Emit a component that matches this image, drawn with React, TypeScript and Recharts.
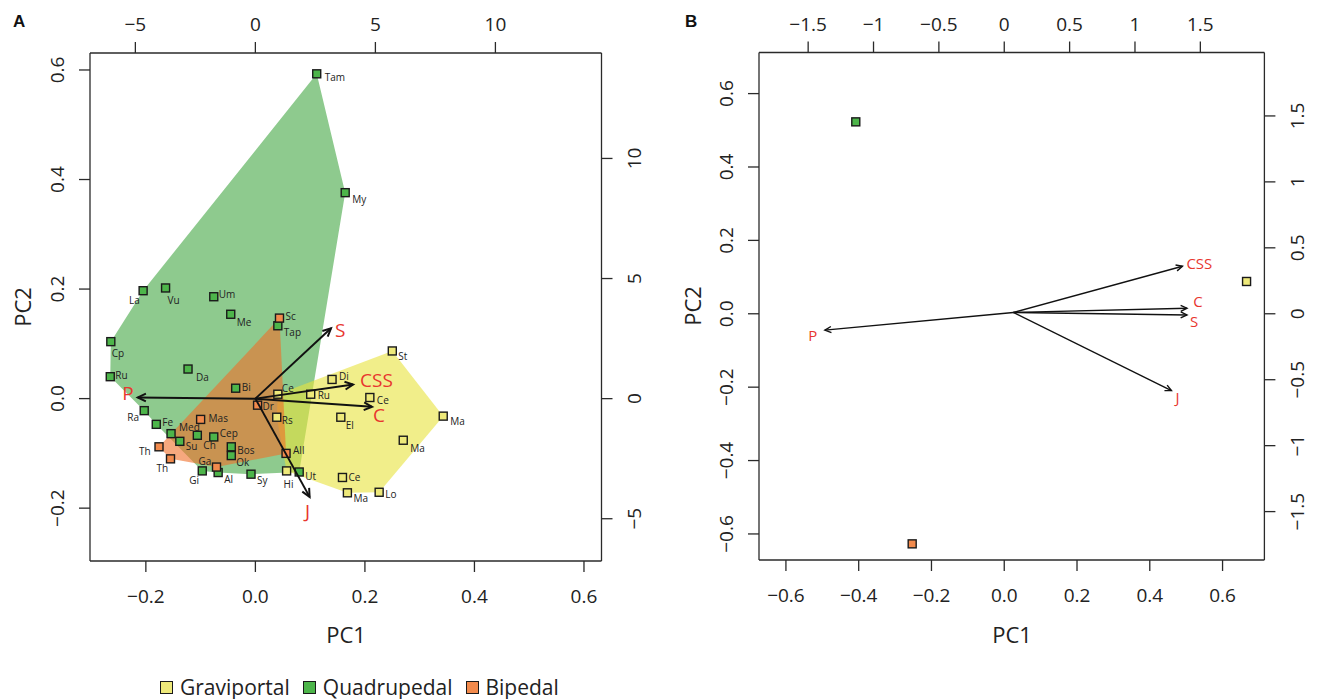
import { ScatterChart, Scatter, XAxis, YAxis } from 'recharts'

const FONT = '"Open Sans", "Noto Sans", sans-serif'
const INK = '#222'
const RED = '#e8362f'

// ---- panel A: PCA scores (PC1, PC2) ----
const GRAVI_NAMES = ['Ce', 'Ru', 'Di', 'Rs', 'El', 'Hi', 'Ce', 'Ma', 'Lo', 'St', 'Ce', 'Ma', 'Ma']
const GRAVI_PC1 = [0.041, 0.101, 0.14, 0.039, 0.156, 0.057, 0.159, 0.168, 0.226, 0.25, 0.209, 0.343, 0.27]
const GRAVI_PC2 = [0.008, 0.008, 0.035, -0.034, -0.034, -0.132, -0.144, -0.172, -0.171, 0.087, 0.002, -0.032, -0.076]

const QUAD_NAMES = ['Tam', 'My', 'La', 'Vu', 'Um', 'Me', 'Tap', 'Cp', 'Ru', 'Da', 'Bi', 'Ra', 'Fe', 'Med', 'Su', 'Ch', 'Cep', 'Bos', 'Ok', 'Gi', 'Al', 'Sy', 'Ut']
const QUAD_PC1 = [0.112, 0.164, -0.205, -0.164, -0.076, -0.045, 0.041, -0.264, -0.265, -0.123, -0.036, -0.203, -0.181, -0.154, -0.138, -0.106, -0.076, -0.044, -0.044, -0.097, -0.068, -0.008, 0.08]
const QUAD_PC2 = [0.593, 0.376, 0.197, 0.202, 0.186, 0.154, 0.133, 0.104, 0.04, 0.054, 0.019, -0.022, -0.047, -0.064, -0.078, -0.067, -0.07, -0.088, -0.104, -0.132, -0.135, -0.138, -0.134]

const BIP_NAMES = ['Sc', 'Dr', 'Mas', 'Th', 'Th', 'Ga', 'All']
const BIP_PC1 = [0.044, 0.004, -0.1, -0.176, -0.155, -0.071, 0.056]
const BIP_PC2 = [0.147, -0.012, -0.038, -0.088, -0.11, -0.125, -0.1]

// convex hull vertices (indices into the groups above)
const GRAVI_HULL = [0, 9, 11, 8, 7, 5, 3]
const QUAD_HULL = [0, 1, 22, 21, 20, 19, 12, 11, 8, 7, 2]
const BIP_HULL = [0, 6, 5, 4, 3]

// loadings on the top/right scale
const VARS = ['S', 'P', 'CSS', 'C', 'J']
const LOAD_A_X = [3.15, -4.9, 4.07, 4.86, 2.26]
const LOAD_A_Y = [2.93, 0.05, 0.59, -0.34, -4.09]
const ORIGIN_A = [0, 0]

// ---- panel B: group means ----
const GROUPS = ['Graviportal', 'Quadrupedal', 'Bipedal']
const MEAN_PC1 = [0.666, -0.408, -0.253]
const MEAN_PC2 = [0.088, 0.523, -0.627]
const LOAD_B_X = [1.398, -1.372, 1.363, 1.398, 1.279]
const LOAD_B_Y = [-0.009, -0.124, 0.36, 0.042, -0.583]
const ORIGIN_B = [0.07, 0.01]

const TICKS_A = [-0.2, 0, 0.2, 0.4, 0.6]
const TICKS_A2 = [-5, 0, 5, 10]
const TICKS_B = [-0.6, -0.4, -0.2, 0, 0.2, 0.4, 0.6]
const TICKS_B2 = [-1.5, -1, -0.5, 0, 0.5, 1, 1.5]

const FILL: Record<string, string> = { Graviportal: '#eee97a', Quadrupedal: '#4db54a', Bipedal: '#f28a4c' }

// label placement (dx, dy from the marker centre)
const GRAVI_LBL = [[4, -6], [7, 1], [7, -3], [5, 3], [5, 8], [-3, 13], [6, 0], [6, 5], [6, 2], [6, 5], [7, 2], [7, 5], [7, 8]]
const QUAD_LBL = [[8, 3], [7, 6], [-14, 9], [2, 12], [5, -3], [6, 8], [6, 6], [1, 11], [5, -2], [8, 8], [6, -1], [-17, 6], [6, -2], [8, -7], [6, 5], [6, 10], [6, -4], [6, 3], [5, 6], [-13, 9], [6, 6], [6, 6], [6, 4]]
const BIP_LBL = [[6, -2], [5, 1], [8, -1], [-20, 4], [-14, 9], [-18, -6], [7, -3]]
const ARROW_LBL_A: Record<string, [number, number, string]> = {
  S: [4, 2, 'start'], P: [-4, -4, 'end'], CSS: [7, -4, 'start'], C: [7, 8, 'middle'], J: [-2, 14, 'middle'],
}
const ARROW_LBL_B: Record<string, [number, number, string]> = {
  S: [7, 6, 'middle'], P: [-12, 5, 'middle'], CSS: [4, -3, 'start'], C: [11, -7, 'middle'], J: [6, 6, 'middle'],
}

const pts = (names: string[], xs: number[], ys: number[], lbl: number[][]) =>
  names.map((name, i) => ({ name, x: xs[i], y: ys[i], dx: lbl[i][0], dy: lbl[i][1] }))

const gravi = pts(GRAVI_NAMES, GRAVI_PC1, GRAVI_PC2, GRAVI_LBL)
const quad = pts(QUAD_NAMES, QUAD_PC1, QUAD_PC2, QUAD_LBL)
const bip = pts(BIP_NAMES, BIP_PC1, BIP_PC2, BIP_LBL)

const arrowData = (xs: number[], ys: number[], origin: number[]) =>
  VARS.map((v, i) => [
    { name: v, x: origin[0], y: origin[1], tip: false },
    { name: v, x: xs[i], y: ys[i], tip: true },
  ])

const fmtDec = (v: number) => v.toFixed(1).replace('-', '\u2212')
const fmtNum = (v: number) => String(v).replace('-', '\u2212')

const tickText = (side: string, fmt: (v: number) => string) => (p: any) => {
  const v = fmt(p.payload.value)
  const common = { fontSize: 19, fill: INK, fontFamily: FONT, textAnchor: 'middle' as const, dominantBaseline: 'central' as const }
  if (side === 'bottom') return <text x={p.x} y={p.y + 24} {...common}>{v}</text>
  if (side === 'top') return <text x={p.x} y={p.y - 18} {...common}>{v}</text>
  const cx = side === 'left' ? p.x - 22 : p.x + 22
  return <text x={cx} y={p.y} transform={`rotate(-90, ${cx}, ${p.y})`} {...common}>{v}</text>
}

const square = (size: number, withLabel: boolean) => (p: any) => {
  const fill = FILL[p.group]
  return (
    <g>
      <rect x={p.cx - size / 2} y={p.cy - size / 2} width={size} height={size} fill={fill} stroke="#1a1a1a" strokeWidth={1.4} />
      {withLabel && (
        <text x={p.cx + p.payload.dx} y={p.cy + p.payload.dy} fontSize={10} fontFamily={FONT} fill={INK} dominantBaseline="central">
          {p.payload.name}
        </text>
      )}
    </g>
  )
}

const arrowLine = (width: number, head: number) => (p: any) => {
  const [a, b] = p.points
  const ang = Math.atan2(b.y - a.y, b.x - a.x)
  const w = Math.PI / 7
  const h1 = `${b.x - head * Math.cos(ang - w)},${b.y - head * Math.sin(ang - w)}`
  const h2 = `${b.x - head * Math.cos(ang + w)},${b.y - head * Math.sin(ang + w)}`
  return (
    <g>
      <line x1={a.x} y1={a.y} x2={b.x} y2={b.y} stroke="#111" strokeWidth={width} />
      <polyline points={`${h1} ${b.x},${b.y} ${h2}`} fill="none" stroke="#111" strokeWidth={width} />
    </g>
  )
}

const arrowLabel = (offsets: Record<string, [number, number, string]>, size: number) => (p: any) => {
  if (!p.payload.tip) return <g />
  const [dx, dy, anchor] = offsets[p.payload.name]
  return (
    <text x={p.cx + dx} y={p.cy + dy} fontSize={size} fontFamily={FONT} fill={RED} textAnchor={anchor as any} dominantBaseline="central">
      {p.payload.name}
    </text>
  )
}

const axisLine = { stroke: '#2a2a2a', strokeWidth: 1.3 }
const tickLine = { stroke: '#2a2a2a', strokeWidth: 1.3 }

function PanelA() {
  return (
    <ScatterChart width={660} height={660} margin={{ top: 0, right: 0, bottom: 0, left: 0 }}>
      <XAxis xAxisId="pc" type="number" dataKey="x" domain={[-0.302, 0.632]} ticks={TICKS_A} allowDataOverflow
        height={99} tickSize={11} tickMargin={0} axisLine={axisLine} tickLine={tickLine} tick={tickText('bottom', fmtDec)} />
      <XAxis xAxisId="ld" type="number" dataKey="x" orientation="top" domain={[-6.89, 14.42]} ticks={TICKS_A2} allowDataOverflow
        height={53} tickSize={11} tickMargin={0} axisLine={axisLine} tickLine={tickLine} tick={tickText('top', fmtNum)} />
      <YAxis yAxisId="pc" type="number" dataKey="y" domain={[-0.2965, 0.631]} ticks={TICKS_A} allowDataOverflow
        width={90} tickSize={11} tickMargin={0} axisLine={axisLine} tickLine={tickLine} tick={tickText('left', fmtDec)} />
      <YAxis yAxisId="ld" type="number" dataKey="y" orientation="right" domain={[-6.76, 14.39]} ticks={TICKS_A2} allowDataOverflow
        width={58.5} tickSize={11} tickMargin={0} axisLine={axisLine} tickLine={tickLine} tick={tickText('right', fmtNum)} />

      <Scatter xAxisId="pc" yAxisId="pc" data={QUAD_HULL.map((i) => quad[i])} isAnimationActive={false}
        line={{ fill: 'rgba(30,150,30,0.5)', stroke: 'none' }} lineJointType="linearClosed" shape={() => <g />} />
      <Scatter xAxisId="pc" yAxisId="pc" data={GRAVI_HULL.map((i) => gravi[i])} isAnimationActive={false}
        line={{ fill: 'rgba(232,226,60,0.6)', stroke: 'none' }} lineJointType="linearClosed" shape={() => <g />} />
      <Scatter xAxisId="pc" yAxisId="pc" data={BIP_HULL.map((i) => bip[i])} isAnimationActive={false}
        line={{ fill: 'rgba(240,110,40,0.6)', stroke: 'none' }} lineJointType="linearClosed" shape={() => <g />} />

      <Scatter xAxisId="pc" yAxisId="pc" data={gravi} isAnimationActive={false} shape={(p: any) => square(8, true)({ ...p, group: 'Graviportal' })} />
      <Scatter xAxisId="pc" yAxisId="pc" data={quad} isAnimationActive={false} shape={(p: any) => square(8, true)({ ...p, group: 'Quadrupedal' })} />
      <Scatter xAxisId="pc" yAxisId="pc" data={bip} isAnimationActive={false} shape={(p: any) => square(8, true)({ ...p, group: 'Bipedal' })} />

      {arrowData(LOAD_A_X, LOAD_A_Y, ORIGIN_A).map((d) => (
        <Scatter key={d[1].name} xAxisId="ld" yAxisId="ld" data={d} isAnimationActive={false}
          line={arrowLine(2, 9)} shape={arrowLabel(ARROW_LBL_A, 19)} />
      ))}
    </ScatterChart>
  )
}

function PanelB() {
  const means = GROUPS.map((g, i) => ({ name: g, x: MEAN_PC1[i], y: MEAN_PC2[i], dx: 0, dy: 0 }))
  return (
    <ScatterChart width={665} height={660} margin={{ top: 0, right: 0, bottom: 0, left: 0 }}>
      <XAxis xAxisId="pc" type="number" dataKey="x" domain={[-0.674, 0.715]} ticks={TICKS_B} allowDataOverflow
        height={100} tickSize={11} tickMargin={0} axisLine={axisLine} tickLine={tickLine} tick={tickText('bottom', fmtDec)} />
      <XAxis xAxisId="ld" type="number" dataKey="x" orientation="top" domain={[-1.876, 1.99]} ticks={TICKS_B2} allowDataOverflow
        height={52.5} tickSize={11} tickMargin={0} axisLine={axisLine} tickLine={tickLine} tick={tickText('top', fmtNum)} />
      <YAxis yAxisId="pc" type="number" dataKey="y" domain={[-0.671, 0.712]} ticks={TICKS_B} allowDataOverflow
        width={99} tickSize={11} tickMargin={0} axisLine={axisLine} tickLine={tickLine} tick={tickText('left', fmtDec)} />
      <YAxis yAxisId="ld" type="number" dataKey="y" orientation="right" domain={[-1.867, 1.981]} ticks={TICKS_B2} allowDataOverflow
        width={60.6} tickSize={11} tickMargin={0} axisLine={axisLine} tickLine={tickLine} tick={tickText('right', fmtNum)} />

      <Scatter xAxisId="pc" yAxisId="pc" data={means} isAnimationActive={false}
        shape={(p: any) => square(8, false)({ ...p, group: p.payload.name })} />

      {arrowData(LOAD_B_X, LOAD_B_Y, ORIGIN_B).map((d) => (
        <Scatter key={d[1].name} xAxisId="ld" yAxisId="ld" data={d} isAnimationActive={false}
          line={arrowLine(1.4, 7)} shape={arrowLabel(ARROW_LBL_B, 15)} />
      ))}
    </ScatterChart>
  )
}

export default function App() {
  return (
    <div style={{ position: 'absolute', left: 0, top: 0, width: 1325, height: 699, background: '#fff', fontFamily: FONT }}>
      <div style={{ position: 'absolute', left: 0, top: 0 }}><PanelA /></div>
      <div style={{ position: 'absolute', left: 660, top: 0 }}><PanelB /></div>
      <svg width={1325} height={699} style={{ position: 'absolute', left: 0, top: 0, pointerEvents: 'none' }}>
        <text x={13} y={27} fontSize={17} fontWeight={700} fontFamily="Liberation Sans, Arial, sans-serif" fill="#111">A</text>
        <text x={685} y={27} fontSize={17} fontWeight={700} fontFamily="Liberation Sans, Arial, sans-serif" fill="#111">B</text>
        <text x={346} y={634} fontSize={22} fontFamily={FONT} fill={INK} textAnchor="middle" dominantBaseline="central">PC1</text>
        <text x={1012} y={634} fontSize={22} fontFamily={FONT} fill={INK} textAnchor="middle" dominantBaseline="central">PC1</text>
        <text x={22} y={307} fontSize={22} fontFamily={FONT} fill={INK} textAnchor="middle" dominantBaseline="central" transform="rotate(-90, 22, 307)">PC2</text>
        <text x={692} y={306} fontSize={22} fontFamily={FONT} fill={INK} textAnchor="middle" dominantBaseline="central" transform="rotate(-90, 692, 306)">PC2</text>
      </svg>
      <div style={{ position: 'absolute', left: 160, top: 673, display: 'flex', alignItems: 'center', gap: 13, fontSize: 21, color: INK }}>
        {GROUPS.map((g) => (
          <div key={g} style={{ display: 'flex', alignItems: 'center', gap: 7 }}>
            <span style={{ width: 13, height: 13, background: FILL[g], border: '1.5px solid #1a1a1a', boxSizing: 'border-box', display: 'inline-block' }} />
            <span>{g}</span>
          </div>
        ))}
      </div>
    </div>
  )
}
